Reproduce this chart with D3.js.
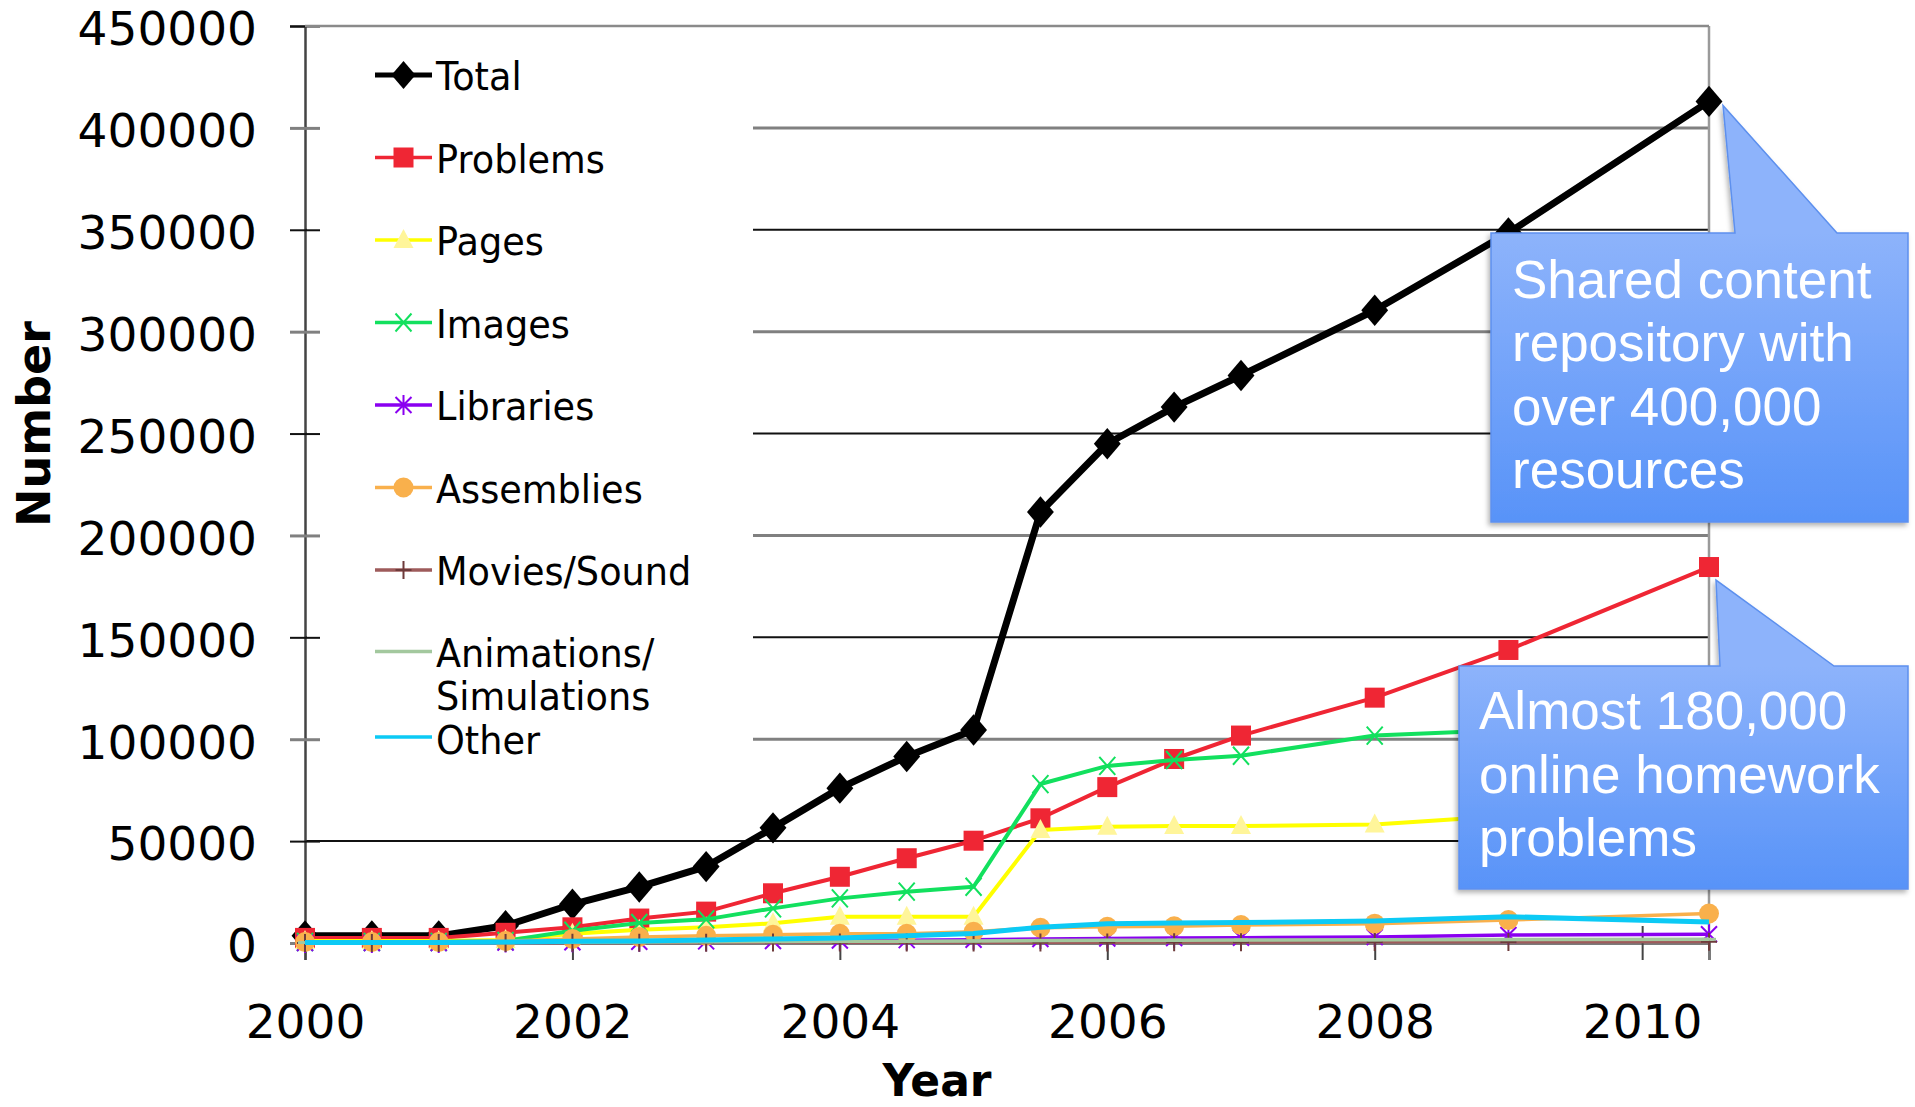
<!DOCTYPE html>
<html><head><meta charset="utf-8">
<script src="https://cdn.jsdelivr.net/npm/d3@7"></script>
<style>
html,body{margin:0;padding:0;background:#fff;}
svg{display:block;}
</style></head>
<body>
<script>
// ---------------- data ----------------
const years = [2000, 2000.5, 2001, 2001.5, 2002, 2002.5, 2003, 2003.5, 2004, 2004.5, 2005, 2005.5, 2006, 2006.5, 2007, 2008, 2009, 2010.5];
const total       = [3500, 3500, 3500, 8500, 19000, 27500, 37500, 56500, 76000, 91500, 104500, 211500, 245000, 263000, 278500, 310500, 348500, 413000];
const problems    = [2500, 2500, 2500, 5000, 7700, 12000, 15400, 24400, 32500, 41600, 50200, 61200, 76500, 90300, 101800, 120400, 143800, 184500];
const pages       = [1000, 1000, 1000, 1500, 4500, 6500, 7700, 9700, 12900, 12900, 12900, 55400, 57100, 57400, 57400, 58100, 62500, 65000];
const images      = [500, 500, 500, 1000, 6000, 9800, 11600, 17000, 21900, 25200, 27600, 78000, 86900, 89800, 91900, 101800, 104500, 107000];
const libraries   = [0, 0, 0, 200, 400, 600, 800, 1000, 1200, 1400, 1600, 2000, 2200, 2400, 2600, 2900, 3900, 4300];
const assemblies  = [500, 500, 500, 1000, 2000, 3000, 3500, 4000, 4500, 4500, 5500, 7500, 8000, 8200, 8800, 9500, 11300, 14500];
const moviesSound = [0, 0, 0, 0, 100, 100, 100, 200, 200, 200, 300, 300, 300, 400, 400, 500, 500, 600];
const animations  = [200, 200, 200, 300, 400, 500, 600, 700, 800, 900, 1000, 1200, 1300, 1400, 1500, 1600, 1700, 1800];
const other       = [300, 300, 300, 500, 800, 1000, 1500, 2000, 2500, 3500, 4700, 7700, 9500, 9800, 10000, 10800, 12900, 10300];

const seriesNames = ["Total", "Problems", "Pages", "Images", "Libraries", "Assemblies", "Movies/Sound", "Animations/\nSimulations", "Other"];
const seriesValues = [total, problems, pages, images, libraries, assemblies, moviesSound, animations, other];

const yTickValues = [0, 50000, 100000, 150000, 200000, 250000, 300000, 350000, 400000, 450000];
const xTickValues = [2000, 2002, 2004, 2006, 2008, 2010];
const xTitle = "Year";
const yTitle = "Number";
const callout1Lines = ["Shared content", "repository with", "over 400,000", "resources"];
const callout2Lines = ["Almost 180,000", "online homework", "problems"];

// ---------------- styles ----------------
const styles = [
  {color:"#000000", width:7,   marker:"diamond",  mfill:"#000000"},
  {color:"#ef2634", width:4,   marker:"square",   mfill:"#ef2634"},
  {color:"#ffff00", width:4,   marker:"triangle", mfill:"#fff59a"},
  {color:"#12e05e", width:4,   marker:"x",        mfill:"#12e05e"},
  {color:"#8a00f0", width:3.5, marker:"asterisk", mfill:"#8a00f0"},
  {color:"#f9b04c", width:3.5, marker:"circle",   mfill:"#f9b04c"},
  {color:"#9e5b5b", width:3,   marker:"plus",     mfill:"#6e3b3b"},
  {color:"#a3c89e", width:3.5, marker:"dash",     mfill:"#a3c89e"},
  {color:"#0ccaf5", width:5,   marker:"none",     mfill:"#0ccaf5"}
];

const W = 1915, H = 1107;
const svg = d3.select("body").append("svg").attr("width", W).attr("height", H);
const defs = svg.append("defs");

const x = d3.scaleLinear().domain([2000, 2010.5]).range([305, 1709]);
const y = d3.scaleLinear().domain([0, 450000]).range([943, 26]);

function drawMarker(g, type, fill, big) {
  const k = big ? 1.12 : 1;
  switch (type) {
    case "diamond": g.append("path").attr("d",`M0,${-14*k}L${12*k},0L0,${14*k}L${-12*k},0Z`).attr("fill",fill); break;
    case "square": g.append("rect").attr("x",-10).attr("y",-10).attr("width",20).attr("height",20).attr("fill",fill); break;
    case "triangle": g.append("path").attr("d","M0,-11L10,8L-10,8Z").attr("fill",fill); break;
    case "x": g.append("path").attr("d","M-8,-9L8,9M-8,9L8,-9").attr("stroke",fill).attr("stroke-width",2).attr("fill","none"); break;
    case "asterisk": g.append("path").attr("d","M-8,-8L8,8M-8,8L8,-8M0,-10L0,10").attr("stroke",fill).attr("stroke-width",2).attr("fill","none"); break;
    case "circle": g.append("circle").attr("r",10).attr("fill",fill); break;
    case "plus": g.append("path").attr("d","M-8,0L8,0M0,-9L0,9").attr("stroke",fill).attr("stroke-width",2).attr("fill","none"); break;
    case "dash": g.append("path").attr("d","M-7,0L7,0").attr("stroke",fill).attr("stroke-width",3).attr("fill","none"); break;
    default: break;
  }
}

// ---------------- grid ----------------
const grid = svg.append("g");
grid.selectAll("line").data(yTickValues.filter(v => v > 0)).join("line")
  .attr("x1", x(2000)).attr("x2", x(2010.5))
  .attr("y1", d => y(d)).attr("y2", d => y(d))
  .attr("stroke", d => (d % 100000 === 0) ? "#808080" : "#111")
  .attr("stroke-width", d => (d % 100000 === 0) ? 3 : 2);
grid.append("line").attr("x1", x(2010.5)).attr("x2", x(2010.5)).attr("y1", y(450000)).attr("y2", y(0))
  .attr("stroke", "#9a9a9a").attr("stroke-width", 2.5);

// ---------------- legend background ----------------
svg.append("rect").attr("x", 307).attr("y", 29).attr("width", 446).attr("height", 760).attr("fill", "#fff");

// ---------------- axes ----------------
const yAxis = svg.append("g").attr("transform", `translate(${x(2000)},0)`)
  .call(d3.axisLeft(y).tickValues(yTickValues).tickSize(15).tickFormat(d3.format("d")));
yAxis.select(".domain").attr("stroke", "#444").attr("stroke-width", 2.5);
yAxis.selectAll(".tick line").attr("x1", -15).attr("x2", 15)
  .attr("stroke", d => (d % 100000 === 0) ? "#808080" : "#111")
  .attr("stroke-width", d => (d % 100000 === 0) ? 3 : 2);
yAxis.selectAll(".tick text").attr("x", -48).attr("dy", "0.4em")
  .style("font-family", "'DejaVu Sans', Verdana, sans-serif").style("font-size", "47px").attr("fill", "#000");

const xAxis = svg.append("g").attr("transform", `translate(0,${y(0)})`)
  .call(d3.axisBottom(x).tickValues(xTickValues).tickSize(17).tickFormat(d3.format("d")));
xAxis.select(".domain").attr("stroke", "#7a7a7a").attr("stroke-width", 3);
xAxis.selectAll(".tick line").attr("y1", -17).attr("y2", 17).attr("stroke", "#444").attr("stroke-width", 2);
xAxis.selectAll(".tick text").attr("y", 95).attr("dy", 0)
  .style("font-family", "'DejaVu Sans', Verdana, sans-serif").style("font-size", "47px").attr("fill", "#000");

svg.append("line").attr("x1", x(2000)).attr("x2", x(2010.5)).attr("y1", y(450000)).attr("y2", y(450000))
  .attr("stroke", "#8a8a8a").attr("stroke-width", 2.5);

// titles
svg.append("text").attr("x", 937).attr("y", 1096).attr("text-anchor", "middle")
  .style("font-family", "'DejaVu Sans', Verdana, sans-serif").style("font-weight", "bold").style("font-size", "44px")
  .text(xTitle);
svg.append("text").attr("transform", "translate(50,424) rotate(-90)").attr("text-anchor", "middle")
  .style("font-family", "'DejaVu Sans', Verdana, sans-serif").style("font-weight", "bold").style("font-size", "46px")
  .text(yTitle);

// ---------------- series ----------------
const line = d3.line().x((d, i) => x(years[i])).y(d => y(d));
const plot = svg.append("g");
seriesValues.forEach((vals, s) => {
  const st = styles[s];
  const g = plot.append("g");
  g.append("path").datum(vals).attr("d", line).attr("fill", "none")
    .attr("stroke", st.color).attr("stroke-width", st.width).attr("stroke-linejoin", "round");
  vals.forEach((v, i) => {
    const m = g.append("g").attr("transform", `translate(${x(years[i])},${y(v)})`);
    drawMarker(m, st.marker, st.mfill, s === 0);
  });
});

// ---------------- legend ----------------
const legend = svg.append("g");
const rowBase = [90, 172.5, 255, 337.5, 420, 502.5, 585, 666.5, 754];
seriesNames.forEach((name, s) => {
  const st = styles[s];
  const b = rowBase[s];
  const ly = b - (s === 8 ? 17 : 15);
  legend.append("line").attr("x1", 375).attr("x2", 432).attr("y1", ly).attr("y2", ly)
    .attr("stroke", st.color).attr("stroke-width", s === 0 ? 5 : 3.5);
  const m = legend.append("g").attr("transform", `translate(403.5,${ly})`);
  drawMarker(m, st.marker, st.mfill, false);
  name.split("\n").forEach((t, k) => {
    legend.append("text")
      .attr("transform", `translate(436,${b + k * 43}) scale(0.94,1)`)
      .style("font-family", "'DejaVu Sans', Verdana, sans-serif").style("font-size", "39px").attr("fill", "#000")
      .text(t);
  });
});

// ---------------- callouts ----------------
const shadow = defs.append("filter").attr("id", "sh").attr("x", "-10%").attr("y", "-10%").attr("width", "130%").attr("height", "130%");
shadow.append("feDropShadow").attr("dx", -2).attr("dy", 3).attr("stdDeviation", 2.5).attr("flood-color", "#000").attr("flood-opacity", 0.3);

function callout(box, tip, baseL, baseR, lines, textX, firstBase, lh) {
  const p = `M${box.x0},${box.y0}L${baseL},${box.y0}L${tip[0]},${tip[1]}L${baseR},${box.y0}L${box.x1},${box.y0}L${box.x1},${box.y1}L${box.x0},${box.y1}Z`;
  const gid = "g" + Math.round(box.y0);
  const gr = defs.append("linearGradient").attr("id", gid).attr("gradientUnits", "userSpaceOnUse")
    .attr("x1", 0).attr("y1", box.y0).attr("x2", 0).attr("y2", box.y1);
  gr.append("stop").attr("offset", "0%").attr("stop-color", "#8db3fb");
  gr.append("stop").attr("offset", "100%").attr("stop-color", "#5893f8");
  svg.append("path").attr("d", p).attr("fill", `url(#${gid})`).attr("stroke", "#5d90ee").attr("stroke-width", 1.5)
    .attr("filter", "url(#sh)");
  lines.forEach((t, i) => {
    svg.append("text").attr("x", textX).attr("y", firstBase + i * lh)
      .style("font-family", "'Liberation Sans', Arial, Helvetica, sans-serif").style("font-size", "53px")
      .attr("fill", "#fff").text(t);
  });
}
const last = years.length - 1;
callout({x0:1491, y0:233, x1:1908, y1:522}, [x(years[last]) + 14, y(total[last]) + 4], 1735, 1837, callout1Lines, 1512, 298, 63.3);
callout({x0:1459, y0:666, x1:1908, y1:889}, [x(years[last]) + 7, y(problems[last]) + 13], 1720, 1834, callout2Lines, 1479, 729, 63.5);
</script>
</body></html>
